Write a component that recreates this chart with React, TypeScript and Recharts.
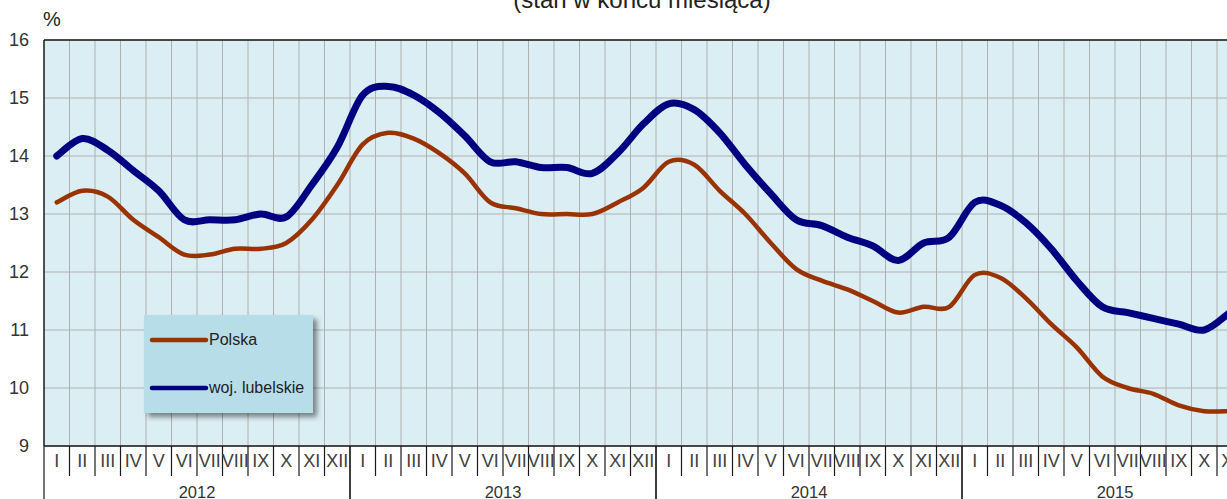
import React from 'react';
import {
  LineChart,
  Line,
  XAxis,
  YAxis,
  CartesianGrid,
  ReferenceLine,
  Legend,
} from 'recharts';

const months = ['I', 'II', 'III', 'IV', 'V', 'VI', 'VII', 'VIII', 'IX', 'X', 'XI', 'XII'];
const years = ['2012', '2013', '2014', '2015'];

const polska2012 = [13.2, 13.4, 13.3, 12.9, 12.6, 12.3, 12.3, 12.4, 12.4, 12.5, 12.9, 13.5];
const polska2013 = [14.2, 14.4, 14.3, 14.05, 13.7, 13.2, 13.1, 13.0, 13.0, 13.0, 13.2, 13.45];
const polska2014 = [13.9, 13.85, 13.4, 13.0, 12.5, 12.05, 11.85, 11.7, 11.5, 11.3, 11.4, 11.4];
const polska2015 = [11.95, 11.9, 11.55, 11.1, 10.7, 10.2, 10.0, 9.9, 9.7, 9.6, 9.6, null];

const lub2012 = [14.0, 14.3, 14.1, 13.75, 13.4, 12.9, 12.9, 12.9, 13.0, 12.95, 13.5, 14.15];
const lub2013 = [15.05, 15.2, 15.05, 14.75, 14.35, 13.9, 13.9, 13.8, 13.8, 13.7, 14.05, 14.55];
const lub2014 = [14.9, 14.8, 14.4, 13.85, 13.35, 12.9, 12.8, 12.6, 12.45, 12.2, 12.5, 12.6];
const lub2015 = [13.2, 13.15, 12.85, 12.4, 11.85, 11.4, 11.3, 11.2, 11.1, 11.0, 11.3, null];

const yTicks = [9, 10, 11, 12, 13, 14, 15, 16];

const polskaAll = [polska2012, polska2013, polska2014, polska2015];
const lubAll = [lub2012, lub2013, lub2014, lub2015];

const rows = years.flatMap((year, yi) =>
  months.map((month, mi) => ({
    key: `${year}-${month}`,
    year,
    month,
    polska: polskaAll[yi][mi],
    lubelskie: lubAll[yi][mi],
  }))
);

const FONT = '"Liberation Sans", Arial, Helvetica, sans-serif';
const CHART_W = 1278;
const CHART_H = 530;
const MARGIN = { top: 40, right: 10, bottom: 0, left: 0 };
const Y_W = 44;
const PLOT_W = CHART_W - MARGIN.left - MARGIN.right - Y_W;
const BAND = PLOT_W / rows.length;

// Catmull-Rom style smoothing (like spreadsheet "smoothed line")
const smoothCurve = (context: any) => {
  let pts: number[][] = [];
  return {
    areaStart() {},
    areaEnd() {},
    lineStart() {
      pts = [];
    },
    point(x: number, y: number) {
      pts.push([+x, +y]);
    },
    lineEnd() {
      const n = pts.length;
      if (!n) return;
      context.moveTo(pts[0][0], pts[0][1]);
      if (n === 1) {
        context.lineTo(pts[0][0], pts[0][1]);
        return;
      }
      for (let i = 0; i < n - 1; i++) {
        const p0 = pts[i === 0 ? 0 : i - 1];
        const p1 = pts[i];
        const p2 = pts[i + 1];
        const p3 = pts[i + 2 < n ? i + 2 : n - 1];
        const c1x = p1[0] + (p2[0] - p0[0]) / 6;
        const c1y = p1[1] + (p2[1] - p0[1]) / 6;
        const c2x = p2[0] - (p3[0] - p1[0]) / 6;
        const c2y = p2[1] - (p3[1] - p1[1]) / 6;
        context.bezierCurveTo(c1x, c1y, c2x, c2y, p2[0], p2[1]);
      }
    },
  };
};

const MonthTick = (props: any) => {
  const { x, y, payload } = props;
  const row = rows[payload.index] || { month: '', year: '' };
  const half = BAND / 2;
  return (
    <g>
      <text
        x={x}
        y={y + 21}
        textAnchor="middle"
        fontSize={18}
        fontFamily={FONT}
        fill="#404040"
      >
        {row.month}
      </text>
      {row.month !== 'XII' && (
        <line x1={x + half} y1={y} x2={x + half} y2={y + 30} stroke="#1a1a1a" strokeWidth={1.2} />
      )}
      {row.month === 'I' && (
        <line x1={x - half} y1={y} x2={x - half} y2={y + 80} stroke="#1a1a1a" strokeWidth={1.2} />
      )}
      {row.month === 'XII' && (
        <line x1={x + half} y1={y} x2={x + half} y2={y + 80} stroke="#1a1a1a" strokeWidth={1.2} />
      )}
      {row.month === 'VI' && (
        <text
          x={x + half}
          y={y + 52}
          textAnchor="middle"
          fontSize={16.5}
          fontFamily={FONT}
          fill="#333"
        >
          {row.year}
        </text>
      )}
    </g>
  );
};

const YTick = (props: any) => {
  const { y, payload } = props;
  return (
    <text
      x={29}
      y={y}
      dy="0.36em"
      textAnchor="end"
      fontSize={18}
      fontFamily={FONT}
      fill="#333"
    >
      {payload.value}
    </text>
  );
};

const LegendBox = (props: any) => {
  const payload = props.payload || [];
  return (
    <div
      style={{
        width: 169,
        height: 98,
        background: '#b7dde8',
        boxShadow: '4px 4px 5px rgba(0,0,0,0.45)',
        position: 'relative',
        fontFamily: FONT,
      }}
    >
      {payload.map((item: any, i: number) => (
        <div
          key={item.value}
          style={{
            position: 'absolute',
            left: 0,
            top: 25 + i * 48 - 10,
            height: 20,
            display: 'flex',
            alignItems: 'center',
          }}
        >
          <svg width={65} height={20} style={{ display: 'block' }}>
            <line
              x1={8}
              y1={10}
              x2={62}
              y2={10}
              stroke={item.color}
              strokeWidth={4.5}
              strokeLinecap="round"
            />
          </svg>
          <span style={{ fontSize: 16, color: '#222', lineHeight: '20px', whiteSpace: 'nowrap' }}>
            {item.value}
          </span>
        </div>
      ))}
    </div>
  );
};

const verticalLines = ({ offset }: any) => {
  const left = offset.left;
  const w = offset.width / rows.length;
  return rows.map((_, i) => left + i * w).slice(1);
};

export default function App() {
  return (
    <div
      style={{
        position: 'absolute',
        left: 0,
        top: 0,
        width: 1227,
        height: 499,
        overflow: 'hidden',
        background: '#fff',
      }}
    >
      <LineChart width={CHART_W} height={CHART_H} data={rows} margin={MARGIN}>
        <CartesianGrid
          fill="#dbeef4"
          stroke="#b0b0b0"
          strokeWidth={1}
          verticalCoordinatesGenerator={verticalLines}
        />
        <XAxis
          dataKey="key"
          interval={0}
          height={CHART_H - 446}
          padding={{ left: BAND / 2, right: BAND / 2 }}
          tickLine={false}
          tickSize={0}
          tickMargin={0}
          axisLine={{ stroke: '#1a1a1a', strokeWidth: 1.5 }}
          tick={<MonthTick />}
        />
        <YAxis
          width={Y_W}
          domain={[9, 16]}
          ticks={yTicks}
          interval={0}
          allowDataOverflow
          tickLine={false}
          axisLine={{ stroke: '#1a1a1a', strokeWidth: 1.5 }}
          tick={<YTick />}
        />
        <ReferenceLine y={16} stroke="#1a1a1a" strokeWidth={1.5} />
        <Line
          name="Polska"
          dataKey="polska"
          stroke="#993300"
          strokeWidth={4.5}
          strokeLinecap="round"
          strokeLinejoin="round"
          dot={false}
          activeDot={false}
          type={smoothCurve as any}
          isAnimationActive={false}
        />
        <Line
          name="woj. lubelskie"
          dataKey="lubelskie"
          stroke="#000080"
          strokeWidth={7}
          strokeLinecap="round"
          strokeLinejoin="round"
          dot={false}
          activeDot={false}
          type={smoothCurve as any}
          isAnimationActive={false}
        />
        <Legend
          layout="vertical"
          align="center"
          verticalAlign="middle"
          wrapperStyle={{ left: 144, top: 315, width: 169, height: 98 }}
          content={<LegendBox />}
        />
      </LineChart>
      <svg
        width={1227}
        height={499}
        style={{ position: 'absolute', left: 0, top: 0, pointerEvents: 'none' }}
      >
        <text x={642} y={8} textAnchor="middle" fontSize={24} fontFamily={FONT} fill="#222">
          (stan w końcu miesiąca)
        </text>
        <text x={43} y={26} fontSize={20} fontFamily={FONT} fill="#222">
          %
        </text>
      </svg>
    </div>
  );
}
